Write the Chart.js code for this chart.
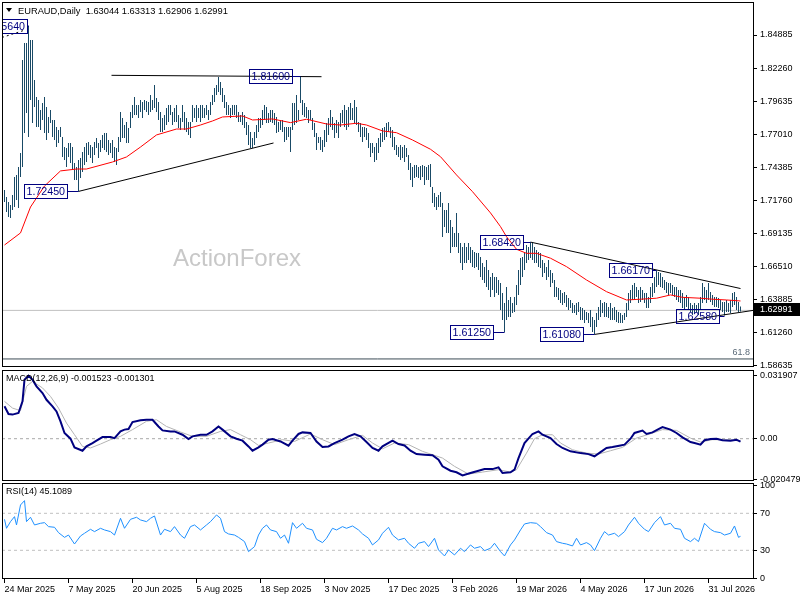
<!DOCTYPE html>
<html>
<head>
<meta charset="utf-8">
<script src="https://cdn.jsdelivr.net/npm/chart.js@4.4.0/dist/chart.umd.min.js"></script>
<style>
  html, body { margin: 0; padding: 0; background: #fff; }
  #wrap { position: relative; width: 800px; height: 600px; overflow: hidden; background: #fff; }
  #wrap canvas { position: absolute; left: 0; }
</style>
</head>
<body>
<div id="wrap">
  <canvas id="priceChart" width="800" height="370" style="top:0px"></canvas>
  <canvas id="macdChart" width="800" height="116" style="top:368px"></canvas>
  <canvas id="rsiChart" width="800" height="119" style="top:481px"></canvas>
</div>
<script>
// ---- data: daily bars (high / low), bar 0 = 24 Mar 2025 ----
const barHighs = [
  1.7257,1.7201,1.7161,1.7137,1.7217,1.7360,1.7376,1.7439,1.7551,1.8290,
  1.8425,1.8425,1.8564,1.8449,1.8449,1.8131,1.7996,1.7972,1.7893,1.7948,
  1.7996,1.7916,1.7837,1.7893,1.7813,1.7813,1.7757,1.7734,1.7757,1.7678,
  1.7598,1.7590,1.7630,1.7630,1.7598,1.7471,1.7439,1.7495,1.7511,1.7559,
  1.7598,1.7630,1.7638,1.7614,1.7598,1.7638,1.7670,1.7630,1.7654,1.7694,
  1.7710,1.7710,1.7654,1.7630,1.7654,1.7598,1.7590,1.7678,1.7877,1.7829,
  1.7773,1.7797,1.7749,1.7877,1.7932,1.7996,1.7932,1.7932,1.7972,1.7956,
  1.7972,1.7964,1.7956,1.8012,1.7972,1.8091,1.7988,1.7956,1.7877,1.7829,
  1.7853,1.7908,1.7932,1.7932,1.7877,1.7908,1.7932,1.7853,1.7829,1.7932,
  1.7877,1.7829,1.7797,1.7797,1.7932,1.7908,1.7932,1.7908,1.7932,1.7932,
  1.7908,1.7932,1.7893,1.7956,1.8012,1.8067,1.8091,1.8155,1.8115,1.8067,
  1.8012,1.7956,1.7932,1.7908,1.7932,1.7932,1.7932,1.7877,1.7853,1.7877,
  1.7853,1.7797,1.7773,1.7718,1.7670,1.7718,1.7773,1.7829,1.7829,1.7893,
  1.7932,1.7916,1.7869,1.7893,1.7893,1.7869,1.7837,1.7797,1.7813,1.7813,
  1.7757,1.7757,1.7757,1.7757,1.7948,1.7948,1.8012,1.7893,1.8160,1.7972,
  1.7948,1.7916,1.7893,1.7893,1.7829,1.7789,1.7710,1.7678,1.7678,1.7654,
  1.7734,1.7789,1.7829,1.7893,1.7837,1.7789,1.7813,1.7797,1.7869,1.7893,
  1.7932,1.7893,1.7916,1.7948,1.7908,1.7972,1.7916,1.7797,1.7789,1.7757,
  1.7757,1.7749,1.7710,1.7630,1.7630,1.7598,1.7630,1.7670,1.7710,1.7749,
  1.7757,1.7789,1.7797,1.7757,1.7734,1.7678,1.7614,1.7598,1.7614,1.7598,
  1.7614,1.7590,1.7535,1.7471,1.7439,1.7455,1.7455,1.7439,1.7447,1.7455,
  1.7447,1.7439,1.7455,1.7463,1.7280,1.7233,1.7201,1.7217,1.7241,1.7153,
  1.7098,1.7098,1.7153,1.7018,1.6962,1.6915,1.7074,1.6915,1.6835,1.6803,
  1.6835,1.6803,1.6835,1.6803,1.6780,1.6764,1.6756,1.6756,1.6724,1.6676,
  1.6644,1.6700,1.6620,1.6565,1.6597,1.6565,1.6565,1.6541,1.6517,1.6438,
  1.6358,1.6485,1.6382,1.6406,1.6358,1.6406,1.6501,1.6620,1.6716,1.6724,
  1.6764,1.6819,1.6803,1.6842,1.6835,1.6803,1.6780,1.6764,1.6756,1.6700,
  1.6676,1.6644,1.6700,1.6620,1.6597,1.6541,1.6485,1.6477,1.6462,1.6438,
  1.6446,1.6422,1.6398,1.6382,1.6358,1.6342,1.6358,1.6366,1.6326,1.6318,
  1.6303,1.6287,1.6279,1.6303,1.6247,1.6223,1.6279,1.6326,1.6382,1.6358,
  1.6366,1.6358,1.6326,1.6358,1.6318,1.6326,1.6303,1.6287,1.6279,1.6263,
  1.6279,1.6358,1.6438,1.6462,1.6501,1.6517,1.6485,1.6462,1.6485,1.6462,
  1.6438,1.6438,1.6406,1.6485,1.6517,1.6565,1.6617,1.6605,1.6597,1.6565,
  1.6541,1.6525,1.6517,1.6517,1.6501,1.6485,1.6485,1.6462,1.6462,1.6438,
  1.6406,1.6422,1.6406,1.6358,1.6342,1.6358,1.6342,1.6358,1.6406,1.6517,
  1.6485,1.6462,1.6517,1.6446,1.6422,1.6406,1.6406,1.6398,1.6382,1.6366,
  1.6366,1.6382,1.6358,1.6382,1.6438,1.6446,1.6406,1.6366,1.6331
];
const barLows = [
  1.7161,1.7082,1.7042,1.7034,1.7098,1.7121,1.7177,1.7113,1.7360,1.7439,
  1.7710,1.7869,1.7678,1.7972,1.7789,1.7916,1.7757,1.7757,1.7734,1.7813,
  1.7710,1.7654,1.7710,1.7789,1.7678,1.7654,1.7598,1.7630,1.7678,1.7519,
  1.7495,1.7439,1.7519,1.7471,1.7416,1.7336,1.7336,1.7245,1.7352,1.7400,
  1.7455,1.7479,1.7535,1.7511,1.7471,1.7535,1.7590,1.7511,1.7559,1.7590,
  1.7575,1.7559,1.7535,1.7551,1.7511,1.7479,1.7455,1.7559,1.7638,1.7670,
  1.7670,1.7630,1.7630,1.7749,1.7829,1.7853,1.7853,1.7829,1.7877,1.7829,
  1.7893,1.7877,1.7853,1.7877,1.7893,1.7908,1.7877,1.7813,1.7718,1.7718,
  1.7734,1.7773,1.7797,1.7853,1.7773,1.7797,1.7797,1.7749,1.7734,1.7797,
  1.7734,1.7718,1.7694,1.7670,1.7797,1.7829,1.7797,1.7829,1.7797,1.7829,
  1.7829,1.7853,1.7813,1.7853,1.7932,1.7956,1.8012,1.8036,1.8012,1.7956,
  1.7908,1.7853,1.7853,1.7829,1.7853,1.7853,1.7829,1.7797,1.7797,1.7773,
  1.7749,1.7694,1.7614,1.7590,1.7590,1.7614,1.7670,1.7718,1.7749,1.7773,
  1.7813,1.7789,1.7789,1.7797,1.7789,1.7773,1.7710,1.7718,1.7734,1.7718,
  1.7638,1.7654,1.7678,1.7559,1.7734,1.7773,1.7789,1.7813,1.7948,1.7853,
  1.7837,1.7829,1.7789,1.7813,1.7734,1.7678,1.7575,1.7630,1.7575,1.7559,
  1.7598,1.7638,1.7694,1.7757,1.7734,1.7670,1.7710,1.7670,1.7757,1.7789,
  1.7757,1.7734,1.7757,1.7813,1.7813,1.7789,1.7773,1.7718,1.7678,1.7638,
  1.7678,1.7654,1.7590,1.7519,1.7551,1.7479,1.7495,1.7551,1.7598,1.7638,
  1.7654,1.7678,1.7718,1.7670,1.7598,1.7575,1.7535,1.7519,1.7495,1.7511,
  1.7479,1.7519,1.7416,1.7336,1.7280,1.7352,1.7360,1.7352,1.7336,1.7360,
  1.7296,1.7336,1.7336,1.7280,1.7153,1.7121,1.7098,1.7121,1.7121,1.6883,
  1.6962,1.6915,1.6915,1.6756,1.6803,1.6803,1.6803,1.6756,1.6676,1.6620,
  1.6676,1.6676,1.6700,1.6676,1.6644,1.6636,1.6644,1.6620,1.6565,1.6541,
  1.6517,1.6485,1.6462,1.6406,1.6462,1.6406,1.6438,1.6422,1.6303,1.6223,
  1.6125,1.6223,1.6247,1.6247,1.6279,1.6287,1.6342,1.6422,1.6501,1.6565,
  1.6620,1.6676,1.6700,1.6716,1.6700,1.6676,1.6676,1.6644,1.6636,1.6565,
  1.6597,1.6541,1.6565,1.6485,1.6517,1.6406,1.6406,1.6382,1.6358,1.6342,
  1.6358,1.6326,1.6303,1.6318,1.6279,1.6279,1.6263,1.6287,1.6223,1.6223,
  1.6199,1.6223,1.6199,1.6167,1.6128,1.6108,1.6167,1.6223,1.6247,1.6279,
  1.6247,1.6247,1.6239,1.6223,1.6223,1.6223,1.6207,1.6199,1.6199,1.6199,
  1.6223,1.6247,1.6303,1.6358,1.6382,1.6382,1.6406,1.6358,1.6366,1.6382,
  1.6358,1.6318,1.6318,1.6358,1.6406,1.6438,1.6485,1.6501,1.6485,1.6477,
  1.6462,1.6438,1.6422,1.6438,1.6422,1.6406,1.6382,1.6366,1.6358,1.6318,
  1.6303,1.6326,1.6303,1.6287,1.6263,1.6279,1.6287,1.6263,1.6303,1.6358,
  1.6382,1.6358,1.6382,1.6366,1.6342,1.6326,1.6326,1.6318,1.6303,1.6287,
  1.6258,1.6287,1.6287,1.6279,1.6326,1.6342,1.6303,1.6287,1.6291
];

// moving average (red), read at these bars
const maBars = [0,8,13,20,28,36,41,54,61,68,76,86,91,98,104,109,119,124,134,143,
  151,161,168,176,181,189,196,204,213,218,226,234,243,248,251,256,261,266,273,281,
  291,301,311,318,326,333,339,348,354,361,368];
const maValues = [1.6819,1.6915,1.7121,1.7288,1.7408,1.7423,1.7423,1.7479,1.7519,1.7598,
  1.7694,1.7741,1.7741,1.7773,1.7805,1.7837,1.7845,1.7813,1.7821,1.7792,
  1.7819,1.7781,1.7773,1.7787,1.7773,1.7726,1.7712,1.7654,1.7580,1.7521,
  1.7376,1.7243,1.7074,1.6965,1.6885,1.6785,1.6753,1.6753,1.6714,1.6647,
  1.6541,1.6448,1.6382,1.6388,1.6396,1.6422,1.6403,1.6396,1.6388,1.6382,1.6374];

// trendlines (bar, price at both ends)
const resistBars = [53.5, 158.5], resistValues = [1.8168, 1.8157];
const supportBars = [37, 134.5], supportValues = [1.7245, 1.7630];
const fallBars = [263, 368], fallValues = [1.6842, 1.6473];
const riseBars = [295, 374.25], riseValues = [1.6108, 1.6299];
const dotBars = [-1.25, 10.25], dotValues = [1.8469, 1.8528];

// pivot labels
const pivotBars = [12, 37, 148, 250, 263, 295, 326, 360];
const pivotValues = [1.8564, 1.7245, 1.8160, 1.6125, 1.6842, 1.6108, 1.6617, 1.6258];
const pivotGap = [1.5, 11.5, 8.5, 11.5, 7.5, 11.5, 4.5, 5.5];  // px between box and bar

const lastPrice = 1.62991;
const fibLevel = 1.5913;
const priceTicks = [1.84885,1.82260,1.79635,1.77010,1.74385,1.71760,1.69135,1.66510,1.63885,1.61260,1.58635];

// MACD(12,26,9)
const macdBars = [0,2,4,7,9,10,12,14,16,19,21,24,26,28,30,33,35,39,41,44,
  46,49,53,55,58,60,62,64,68,71,74,77,79,83,85,89,92,94,98,101,
  104,107,109,113,116,119,122,124,127,129,132,134,138,142,144,147,149,153,156,159,
  162,165,169,172,175,178,181,184,187,189,194,197,200,203,206,210,214,217,219,223,
  226,229,233,237,240,244,247,249,253,255,257,260,264,267,269,273,276,279,283,288,
  292,295,298,301,304,308,310,313,315,319,321,324,327,329,333,336,339,343,345,348,
  350,353,356,359,363,366,368];
const macdMain = [0.0164,0.0125,0.0122,0.0130,0.0189,0.0299,0.0319,0.0299,0.0265,0.0231,
  0.0197,0.0164,0.0138,0.0088,0.0029,0.0000,-0.0044,-0.0061,-0.0039,-0.0022,
  -0.0010,0.0008,0.0008,0.0003,0.0037,0.0046,0.0049,0.0084,0.0093,0.0096,
  0.0096,0.0062,0.0042,0.0037,0.0037,0.0020,-0.0002,0.0012,0.0020,0.0020,
  0.0037,0.0062,0.0046,0.0012,0.0000,-0.0010,-0.0039,-0.0061,-0.0044,-0.0030,
  -0.0005,-0.0002,-0.0014,-0.0035,-0.0010,0.0024,0.0032,0.0029,-0.0014,-0.0042,
  -0.0039,-0.0022,-0.0005,0.0012,0.0024,0.0012,-0.0017,-0.0047,-0.0061,-0.0039,
  -0.0010,-0.0027,-0.0034,-0.0061,-0.0078,-0.0081,-0.0084,-0.0106,-0.0140,-0.0162,
  -0.0170,-0.0186,-0.0174,-0.0162,-0.0154,-0.0154,-0.0145,-0.0174,-0.0170,-0.0157,
  -0.0098,-0.0022,0.0024,0.0037,0.0020,0.0003,-0.0027,-0.0047,-0.0064,-0.0073,
  -0.0078,-0.0089,-0.0068,-0.0047,-0.0042,-0.0034,-0.0030,0.0000,0.0029,0.0041,
  0.0024,0.0032,0.0049,0.0059,0.0046,0.0029,0.0007,-0.0017,-0.0022,-0.0030,
  -0.0008,-0.0002,0.0000,-0.0008,-0.0010,-0.0005,-0.0015];
const signalBars = [0,4,8,11,14,19,23,27,31,35,39,43,48,53,58,64,71,76,81,88,
  94,101,108,113,118,123,127,132,139,145,153,159,165,172,179,184,189,195,202,209,
  219,225,232,239,247,253,256,261,265,269,274,278,284,291,297,303,309,316,323,329,
  336,343,348,354,363,368];
const macdSignal = [0.0189,0.0155,0.0142,0.0265,0.0290,0.0257,0.0214,0.0155,0.0079,0.0020,
  -0.0039,-0.0047,-0.0027,-0.0005,0.0012,0.0046,0.0088,0.0096,0.0062,0.0034,
  0.0012,0.0012,0.0037,0.0046,0.0020,-0.0005,-0.0034,-0.0022,-0.0005,-0.0014,
  0.0024,-0.0005,-0.0030,-0.0005,0.0017,-0.0022,-0.0051,-0.0022,-0.0030,-0.0064,
  -0.0098,-0.0140,-0.0179,-0.0169,-0.0157,-0.0169,-0.0157,-0.0073,0.0000,0.0020,
  0.0020,-0.0022,-0.0056,-0.0073,-0.0078,-0.0061,-0.0044,0.0003,0.0025,0.0046,
  0.0042,0.0003,-0.0017,-0.0005,-0.0005,-0.0013];
const macdTicks = [0.031907, 0, -0.020479];
const macdTickLabels = ['0.031907', '0.00', '-0.020479'];

// RSI(14)
const rsiBars = [0,1,3,5,6,8,10,11,13,15,18,20,22,25,27,30,32,35,38,40,
  43,45,48,50,53,55,58,60,63,66,68,71,73,75,78,80,83,85,88,90,
  93,95,98,101,103,106,108,110,112,115,117,120,122,125,127,129,131,133,136,138,
  140,142,144,146,149,151,154,156,159,161,164,166,169,171,174,177,179,182,184,187,
  189,192,194,197,200,202,205,207,210,212,215,217,220,222,225,228,230,233,235,238,
  240,243,245,248,250,253,255,258,260,263,266,268,271,274,276,279,281,284,286,288,
  291,293,295,298,300,302,305,307,310,312,315,317,320,322,325,328,330,333,335,338,
  340,343,345,347,350,353,355,358,360,363,365,367,368];
const rsiValues = [63.5,53.8,61,66.4,57.4,79,83.7,61,65.7,57.4,59.2,59.9,55.6,54.9,49.1,44,46.5,36.8,45.5,48.4,
  52.7,50.2,53.8,52,50.2,46.5,64.6,53.8,63.5,65.7,62.8,61,64.6,67.1,46.5,52.7,50.2,55.6,46.5,43,
  55.6,57.4,52,57.4,61,68.2,64.6,50.2,47.7,46.5,44,39.4,28.6,34,46.5,53.8,57.4,52,50.2,43,
  46.5,37.6,59.9,53.8,59.2,53.8,52,41.9,38.3,43,53.8,52,55.6,53.8,56.3,52,47.7,43,35.8,41.2,
  48.4,54.9,46.5,41.2,43,37.6,32.2,37.6,39.4,34,43,30.4,23.9,30.4,25,32.2,28.6,35.8,32.2,34,
  29.6,32.2,37.6,28.6,23.9,35.8,41.2,52,58.5,59.9,59.2,55.6,49.1,46.5,39.4,37.6,36.8,34.7,43,35.8,
  38.3,35.8,29.6,43,50.2,46.5,48.4,44.8,50.2,57.4,65.7,59.2,52.7,50.2,59.9,66.4,57.4,59.2,53.8,52.7,
  43,39.4,43,39.4,59.2,52.7,50.2,49.1,46.5,48.4,56.3,44,45.1];
const rsiTicks = [100, 70, 30, 0];

// x axis dates
const dateBars = [0,32,64,96,128,160,192,224,256,288,320,352];
const dateLabels = ['24 Mar 2025','7 May 2025','20 Jun 2025','5 Aug 2025','18 Sep 2025','3 Nov 2025',
  '17 Dec 2025','3 Feb 2026','19 Mar 2026','4 May 2026','17 Jun 2026','31 Jul 2026'];

// ---- layout / style ----
const FONT = "'Liberation Sans', Arial, sans-serif";
const X_MIN = -1.25, X_MAX = 374.25;   // 2px per bar
const AXIS_W = 47;
const BAR_COLOR = '#194a66';
const NAVY = '#000080';

Chart.defaults.font.family = FONT;
Chart.defaults.font.size = 9;
Chart.defaults.color = '#000';

function toPoints(bars, values) {
  return bars.map((b, i) => ({ x: b, y: values[i] }));
}

function flatLine(value) {
  return [{ x: X_MIN, y: value }, { x: X_MAX, y: value }];
}

function lineSet(points, color, width, dash) {
  return {
    type: 'line', data: points, borderColor: color, borderWidth: width,
    borderDash: dash || [], pointRadius: 0, tension: 0, fill: false
  };
}

function xAxis(show) {
  const axis = {
    type: 'linear', min: X_MIN, max: X_MAX, offset: false, display: show,
    grid: { display: false }, border: { display: false }
  };
  if (show) {
    axis.grid = { display: true, drawOnChartArea: false, drawTicks: true, tickLength: 4, color: '#000' };
    axis.afterBuildTicks = s => { s.ticks = dateBars.map(v => ({ value: v })); };
    axis.afterFit = s => { s.height = 21; s.paddingLeft = 0; s.paddingRight = 0; };
    axis.ticks = {
      autoSkip: false, maxRotation: 0, minRotation: 0, align: 'start', padding: 1,
      callback: (v, idx) => dateLabels[idx]
    };
  }
  return axis;
}

function yAxis(min, max, tickValues, labelFn) {
  return {
    position: 'right', min: min, max: max,
    afterBuildTicks: s => { s.ticks = tickValues.map(v => ({ value: v })); },
    afterFit: s => { s.width = AXIS_W; s.paddingTop = 0; s.paddingBottom = 0; },
    grid: { drawOnChartArea: false, drawTicks: true, tickLength: 4, color: '#000' },
    border: { display: false },
    ticks: { autoSkip: false, padding: 3, callback: labelFn }
  };
}

const baseOptions = {
  responsive: false,
  animation: false,
  devicePixelRatio: 1,
  events: [],
  plugins: { legend: { display: false }, tooltip: { enabled: false } }
};

// panel frame
const framePlugin = {
  id: 'frame',
  afterDraw(chart) {
    const { ctx, chartArea: a } = chart;
    ctx.save();
    ctx.strokeStyle = '#000';
    ctx.lineWidth = 1;
    ctx.strokeRect(a.left + 0.5, a.top + 0.5, a.right - a.left, a.bottom - a.top - 1);
    ctx.restore();
  }
};

function panelTitle(text) {
  return {
    id: 'title',
    afterDatasetsDraw(chart) {
      const { ctx, chartArea: a } = chart;
      ctx.save();
      ctx.font = '9px ' + FONT;
      ctx.fillStyle = '#000';
      ctx.textBaseline = 'middle';
      ctx.fillText(text, a.left + 4, a.top + 9);
      ctx.restore();
    }
  };
}

// main panel extras: header, watermark, pivot boxes, price box
const priceDecor = {
  id: 'priceDecor',
  beforeDatasetsDraw(chart) {
    const { ctx } = chart;
    ctx.save();
    ctx.font = '24px ' + FONT;
    ctx.fillStyle = '#c8c8c8';
    ctx.textBaseline = 'middle';
    ctx.fillText('ActionForex', 173, 259);
    ctx.restore();
  },
  afterDraw(chart) {
    const { ctx, chartArea: a } = chart;
    const xs = chart.scales.x, ys = chart.scales.y;
    ctx.save();

    // header
    ctx.fillStyle = '#000';
    ctx.beginPath();
    ctx.moveTo(6, 8); ctx.lineTo(12, 8); ctx.lineTo(9, 12); ctx.closePath();
    ctx.fill();
    ctx.font = '9.3px ' + FONT;
    ctx.textBaseline = 'middle';
    ctx.fillText('EURAUD,Daily  1.63044 1.63313 1.62906 1.62991', 18, 11);

    // pivot boxes, clipped to the plot area
    ctx.save();
    ctx.beginPath();
    ctx.rect(a.left + 1, a.top, a.right - a.left, a.bottom - a.top);
    ctx.clip();
    ctx.font = '10.67px ' + FONT;
    ctx.strokeStyle = NAVY;
    ctx.fillStyle = NAVY;
    ctx.lineWidth = 1;
    pivotBars.forEach((b, i) => {
      const text = pivotValues[i].toFixed(5);
      const bx = xs.getPixelForValue(b);
      const by = Math.round(ys.getPixelForValue(pivotValues[i])) + 0.5;
      const w = Math.ceil(ctx.measureText(text).width) + 4;
      const right = Math.round(bx - pivotGap[i]) + 0.5;
      ctx.strokeRect(right - w, by - 7, w, 14);
      ctx.fillText(text, right - w + 2, by + 0.5);
      ctx.beginPath();
      ctx.moveTo(right, by); ctx.lineTo(bx, by);
      ctx.stroke();
    });
    ctx.restore();

    // 61.8 level text
    ctx.font = '9px ' + FONT;
    ctx.fillStyle = '#5a6a78';
    ctx.textAlign = 'right';
    ctx.fillText('61.8', a.right - 3, ys.getPixelForValue(fibLevel) - 6);

    // last price box on the axis
    const py = Math.round(ys.getPixelForValue(lastPrice));
    ctx.fillStyle = '#000';
    ctx.fillRect(a.right + 1, py - 7, 800 - a.right, 13);
    ctx.fillStyle = '#fff';
    ctx.textAlign = 'left';
    ctx.fillText(lastPrice.toFixed(5), a.right + 7, py);
    ctx.restore();
  }
};

// ---- main price chart ----
new Chart(document.getElementById('priceChart'), {
  type: 'bar',
  data: {
    datasets: [
      lineSet(toPoints(resistBars, resistValues), '#000', 1),
      lineSet(toPoints(supportBars, supportValues), '#000', 1),
      lineSet(toPoints(fallBars, fallValues), '#000', 1),
      lineSet(toPoints(riseBars, riseValues), '#000', 1),
      lineSet(toPoints(dotBars, dotValues), '#000', 1, [2, 3]),
      lineSet(toPoints(maBars, maValues), '#ff0000', 1),
      {
        type: 'bar',
        data: barHighs.map((h, i) => ({ x: i, y: [barLows[i], h] })),
        backgroundColor: BAR_COLOR,
        borderWidth: 0,
        barThickness: 1,
        inflateAmount: 0,
        grouped: false
      },
      lineSet(flatLine(lastPrice), '#c0c0c0', 1),
      lineSet(flatLine(fibLevel), '#3c4c56', 1)
    ]
  },
  options: Object.assign({}, baseOptions, {
    layout: { padding: { left: 2, top: 2, right: 0, bottom: 3 } },
    scales: {
      x: xAxis(false),
      y: yAxis(1.58491, 1.87509, priceTicks, v => v.toFixed(5))
    }
  }),
  plugins: [priceDecor, framePlugin]
});

// ---- MACD panel ----
new Chart(document.getElementById('macdChart'), {
  type: 'line',
  data: {
    datasets: [
      lineSet(toPoints(macdBars, macdMain), NAVY, 2),
      lineSet(toPoints(signalBars, macdSignal), '#b4b4b4', 1),
      lineSet(flatLine(0), '#a8a8a8', 1, [3, 3])
    ]
  },
  options: Object.assign({}, baseOptions, {
    layout: { padding: { left: 2, top: 2, right: 0, bottom: 3 } },
    scales: {
      x: xAxis(false),
      y: yAxis(-0.021418, 0.034785, macdTicks, (v, idx) => macdTickLabels[idx])
    }
  }),
  plugins: [panelTitle('MACD(12,26,9) -0.001523 -0.001301'), framePlugin]
});

// ---- RSI panel ----
new Chart(document.getElementById('rsiChart'), {
  type: 'line',
  data: {
    datasets: [
      lineSet(toPoints(rsiBars, rsiValues), '#1e90ff', 1),
      lineSet(flatLine(70), '#c0c0c0', 1, [3, 3]),
      lineSet(flatLine(30), '#c0c0c0', 1, [3, 3])
    ]
  },
  options: Object.assign({}, baseOptions, {
    layout: { padding: { left: 2, top: 2, right: 0, bottom: 0 } },
    scales: {
      x: xAxis(true),
      y: yAxis(-1.03, 102.76, rsiTicks, v => String(v))
    }
  }),
  plugins: [panelTitle('RSI(14) 45.1089'), framePlugin]
});
</script>
</body>
</html>
